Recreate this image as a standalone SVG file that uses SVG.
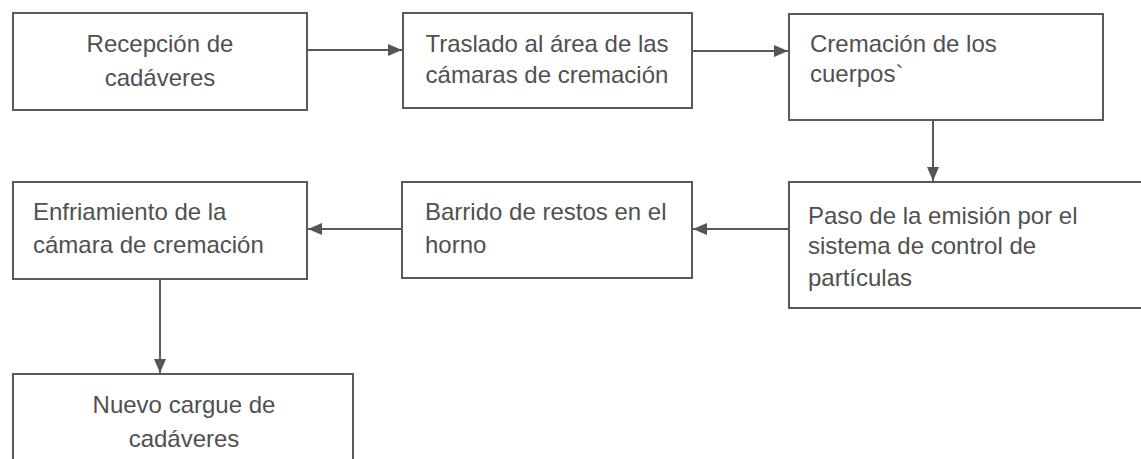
<svg xmlns="http://www.w3.org/2000/svg" width="1141" height="459" viewBox="0 0 1141 459">
<defs>
<style>
.box{fill:#ffffff;stroke:#5a5a5a;stroke-width:2}
.t{font-family:"Liberation Sans",Arial,sans-serif;font-size:24px;fill:#505050}
.c{text-anchor:middle}
.edge{stroke:#5a5a5a;stroke-width:2;fill:none;marker-end:url(#ah)}
</style>
<marker id="ah" viewBox="0 0 14 12" refX="14" refY="6" markerWidth="14" markerHeight="12" markerUnits="userSpaceOnUse" orient="auto">
<path d="M0,0 L14,6 L0,12 Z" fill="#555555"/>
</marker>
</defs>
<rect width="1141" height="459" fill="#ffffff"/>
<g id="connectors">
<line class="edge" x1="307" y1="50" x2="402" y2="50"/>
<line class="edge" x1="692" y1="51" x2="788" y2="51"/>
<line class="edge" x1="933" y1="120" x2="933" y2="181"/>
<line class="edge" x1="789" y1="229" x2="693" y2="229"/>
<line class="edge" x1="402" y1="229" x2="308" y2="229"/>
<line class="edge" x1="160" y1="279" x2="160" y2="373"/>
</g>
<g id="n1">
<rect class="box" x="13" y="13" width="294" height="97"/>
<text class="t c" x="160" y="52">Recepción de</text>
<text class="t c" x="160" y="86">cadáveres</text>
</g>
<g id="n2">
<rect class="box" x="403" y="13" width="289" height="95"/>
<text class="t c" x="547" y="52">Traslado al área de las</text>
<text class="t c" x="547" y="83">cámaras de cremación</text>
</g>
<g id="n3">
<rect class="box" x="789" y="14" width="314" height="106"/>
<text class="t" x="810" y="52">Cremación de los</text>
<text class="t" x="810" y="82">cuerpos`</text>
</g>
<g id="n4">
<rect class="box" x="789" y="182" width="360" height="126"/>
<text class="t" x="808" y="224">Paso de la emisión por el</text>
<text class="t" x="808" y="254">sistema de control de</text>
<text class="t" x="808" y="286">partículas</text>
</g>
<g id="n5">
<rect class="box" x="402" y="182" width="290" height="96"/>
<text class="t" x="425" y="220">Barrido de restos en el</text>
<text class="t" x="425" y="253">horno</text>
</g>
<g id="n6">
<rect class="box" x="13" y="182" width="294" height="97"/>
<text class="t" x="33" y="220">Enfriamiento de la</text>
<text class="t" x="33" y="253">cámara de cremación</text>
</g>
<g id="n7">
<rect class="box" x="13" y="374" width="340" height="100"/>
<text class="t c" x="184" y="413">Nuevo cargue de</text>
<text class="t c" x="184" y="447">cadáveres</text>
</g>
</svg>
